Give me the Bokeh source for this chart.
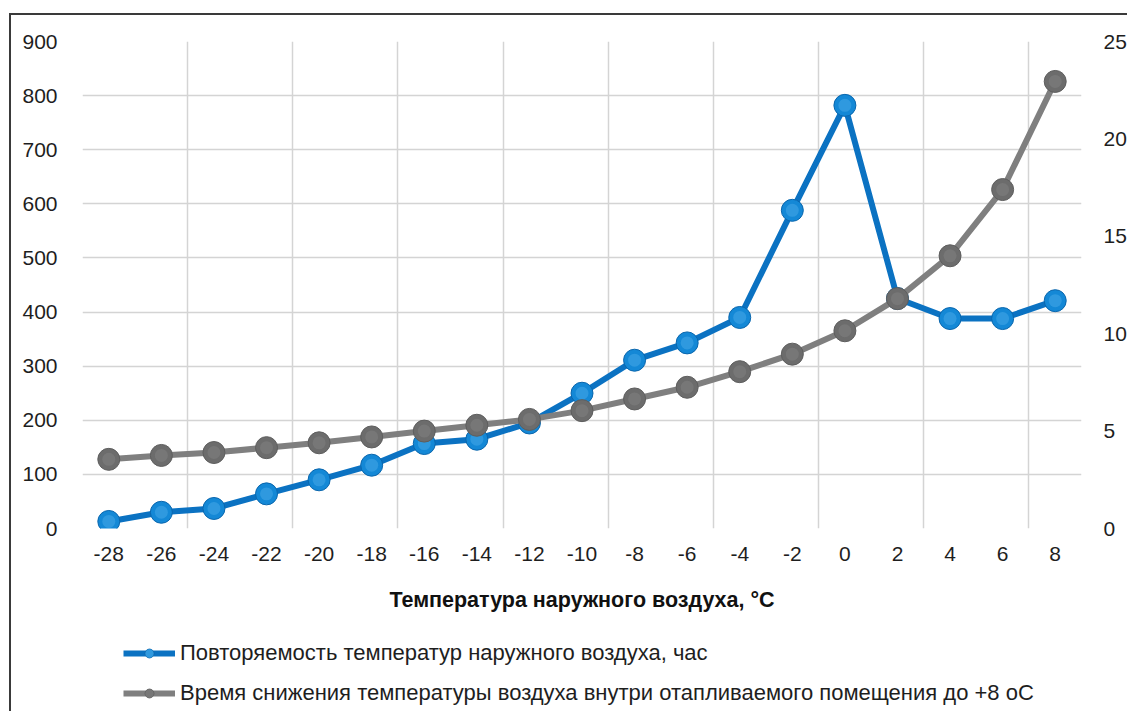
from bokeh.plotting import figure
from bokeh.layouts import column
from bokeh.models import (Range1d, LinearAxis, FixedTicker, Grid, Legend, LegendItem,
                          ColumnDataSource)
from bokeh.embed import file_html
from bokeh.resources import INLINE

# ---- data ----
temps = ["-28", "-26", "-24", "-22", "-20", "-18", "-16", "-14", "-12", "-10",
         "-8", "-6", "-4", "-2", "0", "2", "4", "6", "8"]
repeat_hours = [13, 30, 37, 64, 90, 117, 157, 165, 195, 250,
                311, 343, 390, 588, 782, 425, 388, 388, 421]
cool_time = [3.55, 3.75, 3.9, 4.15, 4.4, 4.7, 5.0, 5.3, 5.6, 6.05,
             6.65, 7.25, 8.05, 8.95, 10.15, 11.8, 14.0, 17.4, 22.95]
left_ticks = [0, 100, 200, 300, 400, 500, 600, 700, 800, 900]
right_ticks = [0, 5, 10, 15, 20, 25]
x_title = "Температура наружного воздуха, °C"
name_blue = "Повторяемость температур наружного воздуха, час"
name_gray = "Время снижения температуры воздуха внутри отапливаемого помещения до +8 оС"

idx = list(range(len(temps)))
src = ColumnDataSource(dict(x=idx, blue=repeat_hours, gray=cool_time))

FONT = "Liberation Sans"
TXT = "#1e1e1e"
FRAME = "2px solid #3a3a3a"

BLUE_LINE = "#0b72c2"
BLUE_DOT = "#1488d6"
BLUE_EDGE = "#0a66ad"
BLUE_HI = "#4fb0ec"
GRAY_LINE = "#7f7f7f"
GRAY_DOT = "#6c6c6c"
GRAY_EDGE = "#5e5e5e"
GRAY_HI = "#858585"

# ---------------- main chart ----------------
p = figure(width=1118, height=610, output_backend="svg", toolbar_location=None,
           x_range=Range1d(-0.5, len(temps) - 0.5),
           y_range=Range1d(left_ticks[0], left_ticks[-1]),
           min_border_left=71, min_border_top=26, min_border_right=48,
           min_border_bottom=97, background_fill_color="white",
           border_fill_color="white", outline_line_color=None)
p.styles = {"border-top": FRAME, "border-left": FRAME,
            "margin-top": "13px", "margin-left": "9px"}
p.extra_y_ranges = {"right": Range1d(right_ticks[0], right_ticks[-1])}

p.xaxis.ticker = FixedTicker(ticks=idx)
p.xaxis.major_label_overrides = {i: t for i, t in zip(idx, temps)}
p.yaxis.ticker = FixedTicker(ticks=left_ticks)
ax_r = LinearAxis(y_range_name="right", ticker=FixedTicker(ticks=right_ticks))
p.add_layout(ax_r, "right")

for ax in [p.xaxis[0], p.yaxis[0], ax_r]:
    ax.axis_line_color = None
    ax.major_tick_line_color = None
    ax.minor_tick_line_color = None
    ax.major_label_text_font = FONT
    ax.major_label_text_font_size = "21px"
    ax.major_label_text_color = TXT
p.xaxis.major_label_standoff = 12
p.yaxis[0].major_label_standoff = 19
ax_r.major_label_standoff = 16

p.xaxis.axis_label = x_title
p.xaxis.axis_label_text_font = FONT
p.xaxis.axis_label_text_font_style = "bold"
p.xaxis.axis_label_text_font_size = "21.5px"
p.xaxis.axis_label_text_color = "#111111"
p.xaxis.axis_label_standoff = 24

p.xgrid.visible = False
vgrid = Grid(dimension=0, ticker=FixedTicker(ticks=[i - 0.5 for i in idx[::2]]),
             grid_line_color="#d4d4d4", grid_line_width=1.5)
p.add_layout(vgrid)
p.ygrid.grid_line_color = "#d4d4d4"
p.ygrid.grid_line_width = 1.5


def draw_series(fig, source, ycol, line_c, dot_c, edge_c, hi_c, **kw):
    ln = fig.line("x", ycol, source=source, line_color=line_c, line_width=6, **kw)
    dt = fig.scatter("x", ycol, source=source, size=22, fill_color=dot_c,
                     line_color=edge_c, line_width=1, **kw)
    hi = fig.scatter("x", ycol, source=source, size=13, fill_color=hi_c,
                     line_color=None, fill_alpha=0.45, **kw)
    return [ln, dt, hi]


draw_series(p, src, "blue", BLUE_LINE, BLUE_DOT, BLUE_EDGE, BLUE_HI)
draw_series(p, src, "gray", GRAY_LINE, GRAY_DOT, GRAY_EDGE, GRAY_HI, y_range_name="right")

# ---------------- legend strip (series drawn off-range, only the legend shows) ----------------
q = figure(width=1118, height=88, output_backend="svg", toolbar_location=None,
           x_range=Range1d(-100, -99), y_range=Range1d(-100, -99),
           x_axis_location=None, y_axis_location=None,
           min_border=0, background_fill_color="white", border_fill_color="white",
           outline_line_color=None)
q.grid.visible = False
q.styles = {"border-left": FRAME, "margin-left": "9px"}
leg_blue = draw_series(q, src, "blue", BLUE_LINE, BLUE_DOT, BLUE_EDGE, BLUE_HI)
leg_gray = draw_series(q, src, "gray", GRAY_LINE, GRAY_DOT, GRAY_EDGE, GRAY_HI)

legend = Legend(items=[LegendItem(label=name_blue, renderers=leg_blue),
                       LegendItem(label=name_gray, renderers=leg_gray)],
                location=(41, 5), orientation="vertical",
                glyph_width=52, glyph_height=22, spacing=14, label_standoff=5,
                padding=0, margin=0, border_line_color=None,
                background_fill_alpha=0,
                label_text_font=FONT, label_text_font_size="22px",
                label_text_color=TXT)
q.add_layout(legend, "center")

layout = column(p, q, spacing=0)
open("out.html", "w").write(file_html(layout, INLINE))
